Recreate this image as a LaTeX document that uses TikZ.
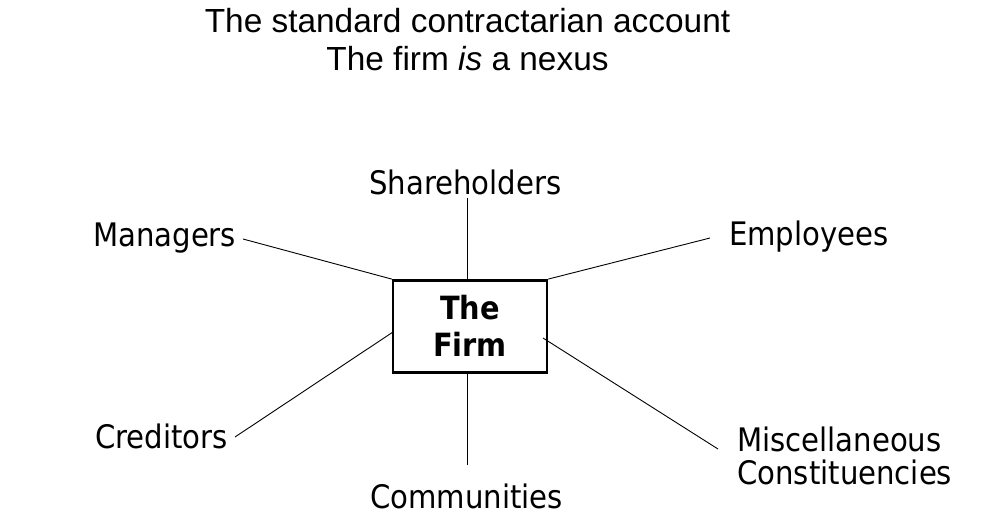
\documentclass[tikz,border=0pt]{standalone}
\usepackage{fontspec}
\setmainfont{Liberation Sans}
\newfontfamily\labfont{DejaVu Sans Condensed}
\newfontfamily\labbold{DejaVu Sans Condensed Bold}
\begin{document}
\begin{tikzpicture}[x=1pt,y=-1pt,
  lab/.style={font=\labfont\fontsize{32.4}{32.5}\selectfont, inner sep=0pt, anchor=base west},
  ttl/.style={font=\fontsize{33.4}{38}\selectfont, inner sep=0pt, anchor=base},
  conn/.style={draw=black, line width=0.9pt},
  firmbox/.style={draw=black, line width=2.4pt, minimum width=154pt, minimum height=92pt, inner sep=0pt, align=center,
    font=\labbold\fontsize{32}{37}\selectfont}]
\useasboundingbox (0,0) rectangle (984,528);
\node[ttl] (t1) at (467.5,32) {The standard contractarian account};
\node[ttl] (t2) at (467.5,70) {The firm \textit{is} a nexus};

\node[firmbox] (firm) at (470,326.3) {The\\Firm};

\node[lab] (sh) at (369,194) {Shareholders};
\node[lab] (man) at (93,246) {Managers};
\node[lab] (emp) at (729,245) {Employees};
\node[lab] (cred) at (95,448) {Creditors};
\node[lab] (comm) at (370,508) {Communities};
\node[lab, align=left] (misc) at (737,484) {Miscellaneous\\Constituencies};

\coordinate (shE) at (467.7,198);
\coordinate (manE) at (243,239);
\coordinate (empE) at (710,238);
\coordinate (credE) at (235,437);
\coordinate (commE) at (467.7,465);
\coordinate (miscE) at (718,449);
\coordinate (firmMisc) at (543,338);
\coordinate (firmCred) at (393,332);

\draw[conn] (shE) -- (shE |- firm.north);
\draw[conn] (manE) -- (firm.north west);
\draw[conn] (empE) -- (firm.north east);
\draw[conn] (credE) -- (firmCred);
\draw[conn] (commE) -- (commE |- firm.south);
\draw[conn] (miscE) -- (firmMisc);
\end{tikzpicture}
\end{document}
